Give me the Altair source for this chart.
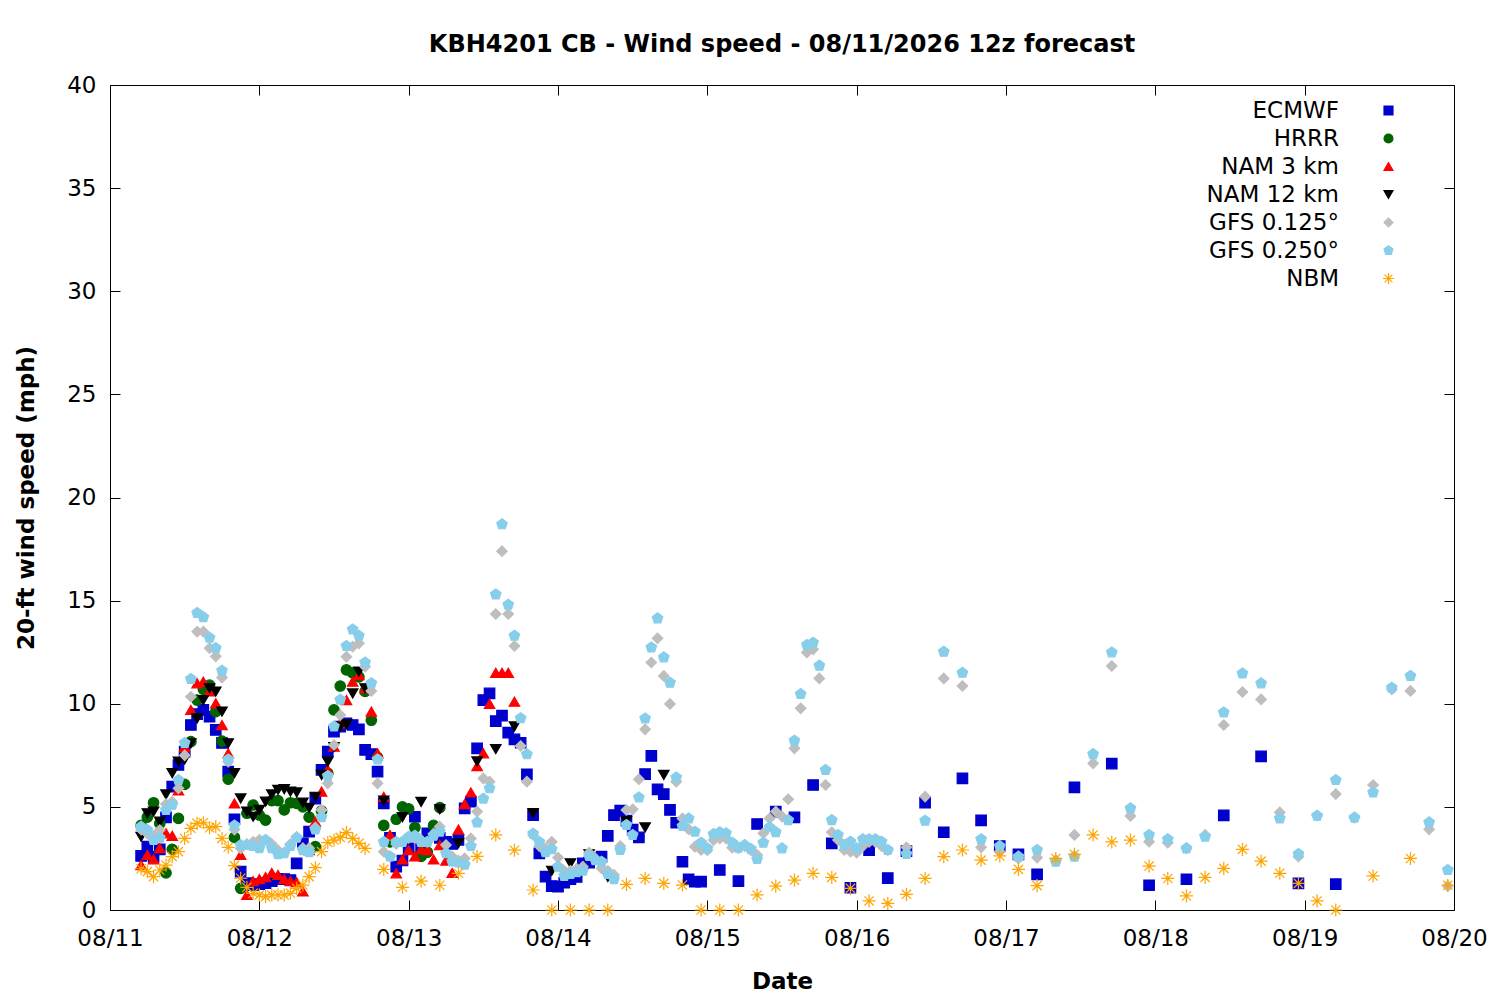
import altair as alt
import pandas as pd

# model order = legend order = drawing order (NBM on top)
models = ["ECMWF", "HRRR", "NAM 3 km", "NAM 12 km", "GFS 0.125°", "GFS 0.250°", "NBM"]
colors = ["#0000cd", "#006400", "#ff0000", "#000000", "#bebebe", "#87ceeb", "#ffa500"]
fills = colors[:-1] + ["transparent"]
pentagon = "M0,-1.05L1,-0.32L0.62,0.85L-0.62,0.85L-1,-0.32Z"
asterisk = "M-1.25,0L1.25,0M0,-1.25L0,1.25M-0.88,-0.88L0.88,0.88M-0.88,0.88L0.88,-0.88"
shapes = ["square", "circle", "triangle-up", "triangle-down", "diamond", pentagon, asterisk]

# valid times, hours after 08/11 00:00
ecmwf_hours = list(range(5, 96)) + list(range(98, 150, 3)) + list(range(155, 198, 6))
ecmwf = [
    2.62, 3.07, 2.58, 2.94, 4.49, 5.98, 7.03, 7.68, 8.97, 9.5,
    9.7, 9.37, 8.73, 8.1, 6.71, 4.4, 1.86, 1.3, 1.2, 1.25,
    1.3, 1.4, 1.5, 1.5, 1.45, 2.26, 3.23, 3.8, 5.4, 6.79,
    7.68, 8.65, 8.89, 9.05, 8.97, 8.76, 7.76, 7.56, 6.71, 5.17,
    3.5, 2.1, 2.4, 2.99, 4.52, 3.0, 3.72, 3.7, 3.5, 3.3,
    3.2, 3.4, 4.93, 5.25, 7.84, 10.18, 10.5, 9.16, 9.42, 8.6,
    8.27, 8.11, 6.58, 4.6, 2.75, 1.62, 1.16, 1.13, 1.32, 1.49,
    1.6, 2.26, 2.3, 2.5, 2.59, 3.59, 4.6, 4.82, 4.33, 3.9,
    3.52, 6.59, 7.47, 5.85, 5.62, 4.85, 4.23, 2.34, 1.49, 1.37,
    1.38,
    1.94, 1.4, 4.17, 4.77, 4.49, 6.06, 3.23, 1.08, 2.9, 1.55,
    2.85, 5.2, 3.77, 6.38, 4.35, 3.1, 2.7, 1.73,
    5.95, 7.1, 1.2, 1.49, 4.59, 7.45, 1.29, 1.25,
]

hrrr_hours = list(range(5, 54))
hrrr = [
    4.1, 4.5, 5.2, 4.2, 1.8, 2.94, 4.44, 6.09, 8.16, 10.18,
    10.7, 10.9, 9.62, 8.19, 6.34, 3.52, 1.05, 4.69, 5.09, 4.6,
    4.36, 5.3, 5.3, 4.85, 5.2, 5.17, 5.0, 4.5, 3.07, 4.8,
    6.63, 9.7, 10.86, 11.64, 11.5, 11.3, 10.6, 9.2, 7.4, 4.1,
    3.3, 4.4, 5.0, 4.9, 4.0, 2.6, 2.8, 4.1, 4.96,
]

nam3_hours = list(range(5, 66))
nam3 = [
    2.18, 2.67, 2.46, 3.0, 3.72, 3.6, 5.8, 7.9, 9.7, 10.99,
    11.07, 10.6, 10.02, 8.97, 7.6, 5.17, 2.67, 0.73, 1.4, 1.5,
    1.6, 1.8, 1.7, 1.5, 1.4, 1.35, 0.9, 2.9, 4.28, 5.74,
    6.8, 7.92, 9.05, 10.18, 11.07, 11.39, 10.75, 9.62, 7.6, 5.49,
    3.64, 1.78, 2.45, 2.9, 2.6, 2.95, 2.9, 2.45, 3.15, 2.4,
    1.8, 3.9, 5.14, 5.7, 6.98, 7.6, 10.0, 11.5, 11.5, 11.5, 10.1,
]

nam12_hours = list(range(5, 42)) + list(range(44, 90, 3))
nam12 = [
    3.55, 4.69, 4.77, 4.28, 5.6, 6.63, 7.19, 7.3, 8.08, 9.29,
    10.18, 10.75, 10.59, 9.62, 8.08, 6.63, 5.41, 4.77, 4.52, 4.85,
    5.25, 5.6, 5.82, 5.86, 5.74, 5.7, 5.2, 4.95, 5.49, 6.55,
    7.19, 7.9, 8.89, 9.0, 10.5, 11.56, 10.75,
    5.3, 4.5, 5.24, 4.88, 3.23, 7.2, 7.8, 8.9, 4.7, 1.9,
    2.26, 2.7, 1.6, 4.3, 4.0, 6.55,
]

gfs_hours = list(range(5, 126)) + list(range(128, 216, 3))
gfs125 = [
    3.9, 3.7, 3.6, 3.88, 5.14, 5.25, 5.9, 7.5, 10.34, 13.5,
    13.5, 12.7, 12.3, 11.27, 7.19, 3.9, 2.99, 3.2, 3.3, 3.4,
    3.39, 3.2, 2.9, 2.8, 3.2, 3.55, 3.0, 3.0, 4.0, 4.85,
    6.14, 8.0, 9.45, 12.28, 12.77, 12.93, 11.8, 10.62, 6.14, 2.83,
    2.59, 3.2, 3.3, 3.5, 3.5, 3.4, 3.3, 3.7, 4.04, 3.15,
    2.59, 2.4, 2.5, 3.47, 4.77, 6.38, 6.22, 14.35, 17.4, 14.35,
    12.8, 7.95, 6.22, 3.64, 3.1, 3.0, 3.31, 2.54, 1.9, 1.9,
    2.0, 2.1, 2.78, 2.5, 2.02, 1.9, 1.7, 3.1, 4.85, 4.88,
    6.34, 8.76, 12.0, 13.17, 11.35, 9.99, 6.22, 4.44, 3.91, 3.07,
    2.91, 2.9, 3.39, 3.47, 3.47, 3.02, 3.0, 3.1, 2.9, 2.67,
    3.72, 4.44, 4.77, 4.53, 5.37, 7.84, 9.78, 12.49, 12.64, 11.23,
    6.06, 3.77, 3.4, 2.91, 2.83, 2.78, 3.1, 3.3, 3.3, 3.1,
    2.9,
    3.04, 5.5, 11.23, 10.86, 3.04, 2.83, 2.5, 2.54, 2.42, 3.64,
    7.11, 11.83, 4.56, 3.31, 3.26, 3.0, 3.64, 8.97, 10.57, 10.21,
    4.73, 2.59, 4.57, 5.62, 4.48, 6.06, 10.7, 10.62, 3.91, 1.16,
]
gfs250 = [
    4.04, 3.88, 3.4, 3.5, 4.85, 5.1, 6.3, 8.1, 11.2, 14.4,
    14.2, 13.2, 12.7, 11.6, 7.3, 4.1, 3.15, 3.15, 3.1, 3.0,
    3.4, 3.0, 2.7, 2.75, 3.1, 3.5, 2.9, 2.8, 3.9, 4.5,
    6.5, 8.9, 10.2, 12.8, 13.6, 13.3, 12.0, 11.0, 7.3, 3.3,
    2.6, 3.3, 3.3, 3.55, 3.6, 3.3, 3.3, 3.6, 3.8, 2.75,
    2.35, 2.3, 2.2, 3.1, 4.25, 5.4, 5.9, 15.3, 18.7, 14.8,
    13.3, 9.3, 7.55, 3.7, 3.3, 2.8, 2.95, 2.1, 1.65, 1.75,
    1.83, 1.91, 2.62, 2.42, 2.34, 1.75, 1.49, 2.91, 4.12, 3.64,
    5.46, 9.29, 12.73, 14.14, 12.25, 11.02, 6.43, 4.07, 4.44, 3.8,
    3.26, 2.99, 3.68, 3.77, 3.72, 3.26, 3.02, 3.15, 2.96, 2.47,
    3.26, 4.01, 3.77, 2.99, 4.36, 8.21, 10.47, 12.85, 12.96, 11.85,
    6.79, 4.36, 3.64, 3.15, 3.31, 2.99, 3.43, 3.43, 3.43, 3.31,
    2.91,
    2.72, 4.33, 12.52, 11.5, 3.43, 3.1, 2.59, 2.91, 2.34, 2.59,
    7.56, 12.49, 4.93, 3.64, 3.43, 2.99, 3.56, 9.58, 11.47, 10.99,
    4.44, 2.72, 4.57, 6.3, 4.48, 5.7, 10.78, 11.35, 4.25, 1.94,
]

nbm_hours = list(range(5, 42)) + list(range(44, 198, 3)) + [203, 209, 215]
nbm = [
    2.0, 1.86, 1.62, 1.94, 2.18, 2.59, 2.83, 3.47, 3.96, 4.2,
    4.23, 3.99, 4.04, 3.47, 3.04, 2.15, 1.54, 1.1, 0.81, 0.73,
    0.65, 0.73, 0.73, 0.73, 0.81, 1.05, 1.21, 1.62, 2.05, 2.83,
    3.27, 3.39, 3.52, 3.75, 3.47, 3.23, 2.99,
    1.97, 1.1, 1.4, 1.2, 1.78, 2.6, 3.64, 2.9, 0.97, 0.0,
    0.0, 0.0, 0.0, 1.24, 1.53, 1.29, 1.21, 0.0, 0.0, 0.0,
    0.73, 1.16, 1.45, 1.78, 1.58, 1.05, 0.44, 0.32, 0.76, 1.53,
    2.59, 2.91, 2.42, 2.62, 1.97, 1.18, 2.5, 2.7, 3.64, 3.3,
    3.39, 2.13, 1.53, 0.68, 1.58, 2.02, 2.94, 2.37, 1.78, 1.29,
    0.44, 0.0,
    1.65, 2.5, 1.2,
]

series = [
    (ecmwf_hours, ecmwf), (hrrr_hours, hrrr), (nam3_hours, nam3),
    (nam12_hours, nam12), (gfs_hours, gfs125), (gfs_hours, gfs250),
    (nbm_hours, nbm),
]
frames = []
for name, (hours, values) in zip(models, series):
    frames.append(pd.DataFrame({"model": name, "hour": hours, "speed": values}))
df = pd.concat(frames, ignore_index=True)
df["time"] = pd.Timestamp("2026-08-11") + pd.to_timedelta(df["hour"], unit="h")

FONT = "DejaVu Sans"
days = [alt.DateTime(year=2026, month=8, date=d) for d in range(11, 21)]
speed_ticks = list(range(0, 41, 5))
x_scale = alt.Scale(domain=[days[0], days[-1]])
y_scale = alt.Scale(domain=[0, 40], nice=False)

# gnuplot-style key: right-aligned label, symbol to its right
legend = alt.Legend(
    title=None, orient="none", legendX=1267, legendY=14, padding=0,
    labelAlign="right", labelOffset={"expr": "-61"},
    labelFont=FONT, labelFontSize=23, labelColor="black", labelLimit=300,
    rowPadding=4, symbolSize=80, symbolStrokeWidth=1.2,
)

points = alt.Chart(df).mark_point(size=110, strokeWidth=1.2, opacity=1).encode(
    x=alt.X("time:T", scale=x_scale, axis=alt.Axis(
        values=days, format="%m/%d", title="Date", offset=-10, tickSize=10,
        domain=False, grid=False, labelPadding=17, titlePadding=20,
        labelFlush=False, labelOverlap=False)),
    y=alt.Y("speed:Q", scale=y_scale, axis=alt.Axis(
        values=speed_ticks, title="20-ft wind speed (mph)", offset=-10, tickSize=10,
        domain=False, grid=False, labelPadding=14, titlePadding=28,
        labelFlush=False, labelOverlap=False)),
    shape=alt.Shape("model:N", sort=models, scale=alt.Scale(domain=models, range=shapes), legend=legend),
    fill=alt.Fill("model:N", sort=models, scale=alt.Scale(domain=models, range=fills), legend=legend),
    stroke=alt.Stroke("model:N", sort=models, scale=alt.Scale(domain=models, range=colors), legend=legend),
)

# mirrored inward ticks on the top and right border, like gnuplot
mirror = alt.Chart(df).mark_point(opacity=0).encode(
    x=alt.X("time:T", scale=x_scale, axis=alt.Axis(
        orient="top", values=days, labels=False, title=None, offset=-10,
        tickSize=10, domain=False, grid=False)),
    y=alt.Y("speed:Q", scale=y_scale, axis=alt.Axis(
        orient="right", values=speed_ticks, labels=False, title=None, offset=-10,
        tickSize=10, domain=False, grid=False)),
)

chart = alt.layer(points, mirror).resolve_axis(
    x="independent", y="independent"
).properties(
    width=1344,
    height=825,
    title=alt.TitleParams(
        "KBH4201 CB - Wind speed - 08/11/2026 12z forecast",
        font=FONT, fontSize=24, fontWeight="bold", color="black",
        anchor="middle", frame="group", offset=33, dy=35, baseline="alphabetic"),
    padding={"left": 102, "top": 77, "right": 36, "bottom": 82},
    autosize=alt.AutoSizeParams(type="none"),
    background="white",
).configure_axis(
    labelFont=FONT, labelFontSize=23, labelColor="black",
    titleFont=FONT, titleFontSize=23, titleFontWeight="bold", titleColor="black",
    tickColor="black", tickWidth=1,
).configure_view(
    stroke="black", strokeWidth=1
)

chart.save("out.html", embed_options={"renderer": "svg", "actions": False})
